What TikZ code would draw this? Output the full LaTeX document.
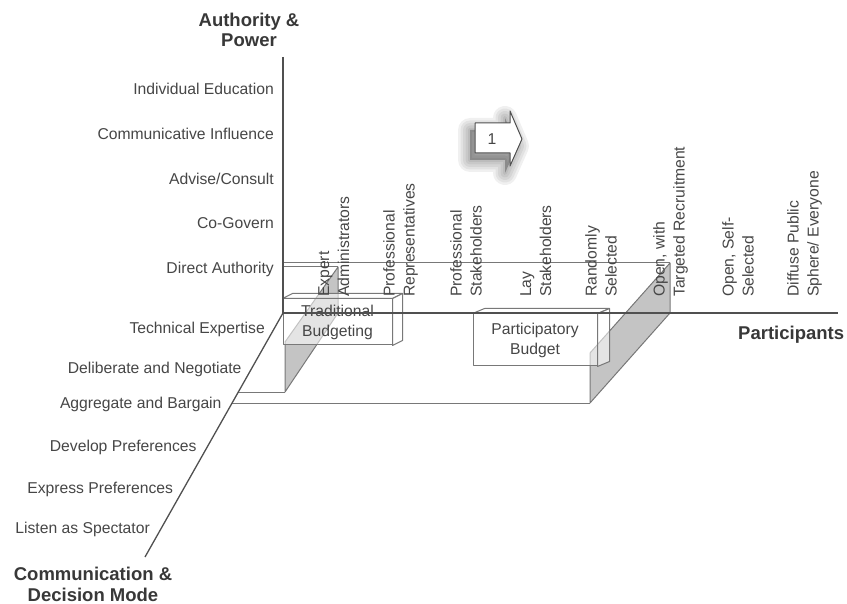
\documentclass[tikz,border=0pt]{standalone}
\usepackage{fontspec}
\setmainfont{Liberation Sans}
\definecolor{txt}{HTML}{464646}
\definecolor{ttl}{HTML}{383838}
\definecolor{axiscol}{HTML}{505050}
\definecolor{lncol}{HTML}{787878}
\definecolor{shade}{HTML}{C4C4C4}
\tikzset{
  lbl/.style={font=\fontsize{15.7}{20}\selectfont, text=txt, inner sep=0pt},
  leftlbl/.style={lbl, anchor=base east},
  collbl/.style={lbl, rotate=90, anchor=north west, align=left},
  ttlstyle/.style={font=\fontsize{18.5}{20}\selectfont\bfseries, text=ttl, inner sep=0pt, align=center},
  axisline/.style={draw=axiscol, line width=1.3pt},
  thinline/.style={draw=lncol, line width=1pt},
  plane/.style={thinline, fill=shade},
  boxface/.style={thinline, fill=white, fill opacity=0.55},
  boxnode/.style={boxface, text opacity=1, lbl, align=center, inner sep=0pt},
}
\begin{document}
\begin{tikzpicture}[x=1pt,y=-1pt, line join=round]
\useasboundingbox (0,0) rectangle (847,604);
% key points
\coordinate (O) at (283,313);
\coordinate (Atop) at (283,57);
\coordinate (Pend) at (838,313);
\coordinate (Cend) at (145,557);
\coordinate (dA) at (238.3,392);
\coordinate (dB) at (232.1,403);

% shaded planes
\draw[plane] (338,267) coordinate (L1) -- (338,313) coordinate (L2) -- (285,392) coordinate (L3) -- (285,342) coordinate (L4) -- cycle;
\draw[plane] (670,263) coordinate (R1) -- (670,313) coordinate (R2) -- (590,403) coordinate (R3) -- (590,353) coordinate (R4) -- cycle;

% boxes
\node[boxnode, minimum width=109pt, minimum height=46pt] (trad) at (337.5,322) {Traditional\\Budgeting};
\draw[boxface] (trad.north west) -- ++(10,-5) -- ([shift={(10,-5)}]trad.north east) -- (trad.north east) -- cycle;
\draw[boxface] (trad.north east) -- ++(10,-5) -- ([shift={(10,-5)}]trad.south east) -- (trad.south east) -- cycle;
\node[boxnode, minimum width=124pt, minimum height=52pt] (part) at (535,340) {Participatory\\Budget};
\draw[boxface] (part.north west) -- ++(12,-5) -- ([shift={(12,-5)}]part.north east) -- (part.north east) -- cycle;
\draw[boxface] (part.north east) -- ++(12,-5) -- ([shift={(12,-5)}]part.south east) -- (part.south east) -- cycle;

% reference lines
\draw[thinline] (283,263) -- (R1);
\draw[thinline] (283,267) -- (L1);
\draw[thinline] (dA) -- (L3);
\draw[thinline] (dB) -- (R3);

% axes
\draw[axisline] (Atop) -- (O) -- (Pend);
\draw[axisline] (O) -- (Cend);

% arrow 1 with blurred shadow
\foreach \w in {24,19,14,9,4}
  \filldraw[black, opacity=0.06, line width=\w pt, shift={(-5,7)}]
    (475,123) -- (510,123) -- (510,111) -- (522,139) -- (510,166) -- (510,153) -- (475,153) -- cycle;
\filldraw[draw=axiscol, fill=white, line width=1pt]
  (475,123) -- (510,123) -- (510,111) -- (522,139) -- (510,166) -- (510,153) -- (475,153) -- cycle;
\node[lbl] (one) at (492,139) {1};

% titles
\node[ttlstyle, anchor=north] (tAP) at (249,12.5) {Authority \&\\Power};
\node[ttlstyle, font=\fontsize{18.5}{21.7}\selectfont\bfseries, anchor=north] (tCD) at (93,566.5) {Communication \&\\Decision Mode};
\node[ttlstyle, anchor=base west] (tP) at (738,340) {Participants};

% authority labels
\node[leftlbl] (a1) at (274,95) {Individual Education};
\node[leftlbl] (a2) at (274,140) {Communicative Influence};
\node[leftlbl] (a3) at (274,184.3) {Advise/Consult};
\node[leftlbl] (a4) at (274,229) {Co-Govern};
\node[leftlbl] (a5) at (274,273.3) {Direct Authority};

% communication labels
\node[leftlbl] (c1) at (265,333.3) {Technical Expertise};
\node[leftlbl] (c2) at (241.7,373.3) {Deliberate and Negotiate};
\node[leftlbl] (c3) at (221.7,408.3) {Aggregate and Bargain};
\node[leftlbl] (c4) at (196.7,451.7) {Develop Preferences};
\node[leftlbl] (c5) at (173.3,493.3) {Express Preferences};
\node[leftlbl] (c6) at (150,533.3) {Listen as Spectator};

% participant labels
\node[collbl] (p1) at (318,297) {Expert\\Administrators};
\node[collbl] (p2) at (383,297) {Professional\\Representatives};
\node[collbl] (p3) at (450,297) {Professional\\Stakeholders};
\node[collbl] (p4) at (520,297) {Lay\\Stakeholders};
\node[collbl] (p5) at (585,297) {Randomly\\Selected};
\node[collbl] (p6) at (653,297) {Open, with\\Targeted Recruitment};
\node[collbl] (p7) at (722,297) {Open, Self-\\Selected};
\node[collbl] (p8) at (787,297) {Diffuse Public\\Sphere/ Everyone};
\end{tikzpicture}
\end{document}
